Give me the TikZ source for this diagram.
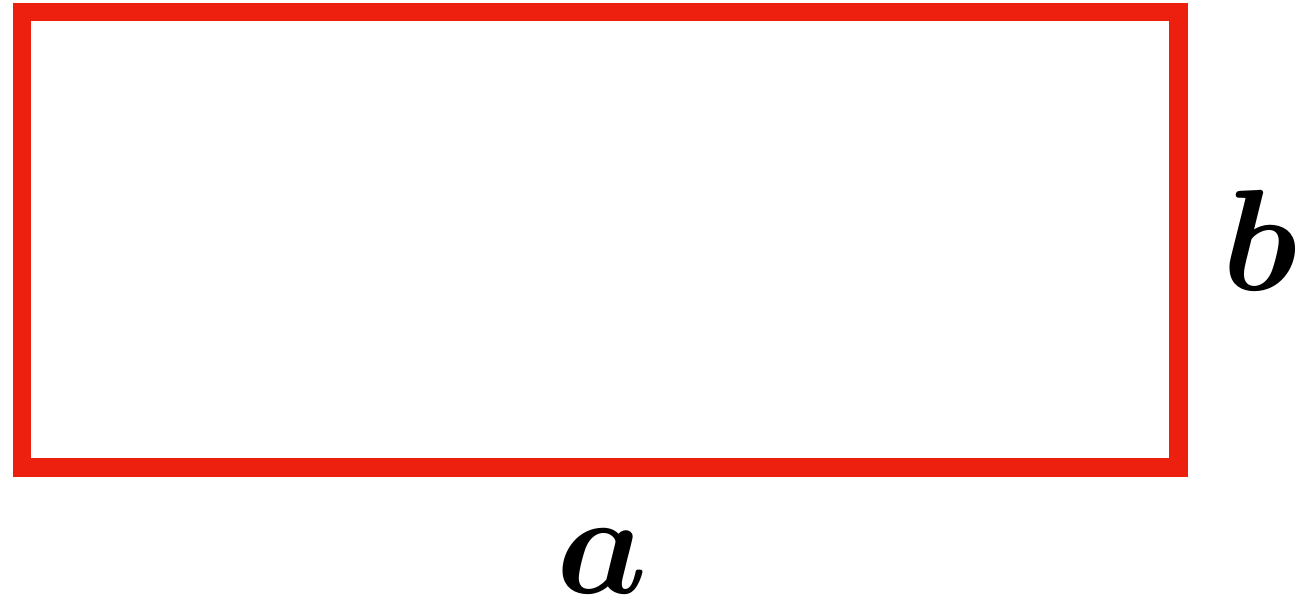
\documentclass[tikz,border=0pt]{standalone}
\usepackage{bm}
\definecolor{rectred}{RGB}{237,31,15}
\begin{document}
\begin{tikzpicture}[x=0.01cm,y=-0.01cm,
  lbl/.style={inner sep=0pt,anchor=base,font=\Huge,scale=1.65}]
\useasboundingbox (0,0) rectangle (1297,609);
\draw[rectred,line width=0.187cm,line join=miter] (22,12) rectangle (1178.3,467.5);
\node[lbl] (b) at (1260,290) {$\bm{b}$};
\node[lbl] (a) at (602,593) {$\bm{a}$};
\end{tikzpicture}
\end{document}
